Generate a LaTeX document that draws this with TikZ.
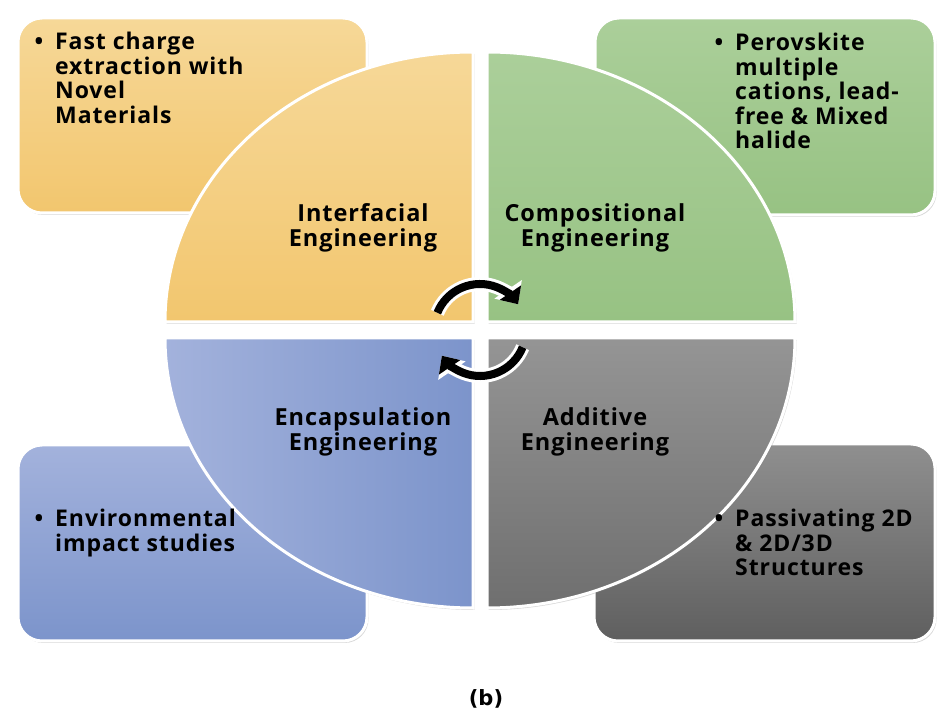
\documentclass[tikz,border=0pt]{standalone}
\usepackage{fontspec}
\setmainfont{Open Sans}[LetterSpace=4]
\newfontfamily\capfont{DejaVu Sans}
\usepackage{tikz}
\usetikzlibrary{shadows}
\usetikzlibrary{arrows.meta}

\definecolor{sandtop}{HTML}{F6D898}
\definecolor{sandbot}{HTML}{F2C66E}
\definecolor{sagetop}{HTML}{ABCF9A}
\definecolor{sagebot}{HTML}{97C283}
\definecolor{bluelight}{HTML}{A3B2DC}
\definecolor{bluedark}{HTML}{7C94CB}
\definecolor{greytop}{HTML}{8F8F8F}
\definecolor{greybot}{HTML}{5F5F5F}

\begin{document}
\begin{tikzpicture}[x=1pt,y=1pt,
        card/.style={draw=white, line width=3pt, rounded corners=24pt,
            drop shadow={shadow xshift=1.5pt, shadow yshift=-2pt, opacity=0.3}},
        quad/.style={draw=white, line width=3pt,
            drop shadow={shadow xshift=1.5pt, shadow yshift=-2pt, opacity=0.3}},
        title/.style={align=center, inner sep=0pt, font=\bfseries\fontsize{23.5}{24.5}\selectfont},
        points/.style={anchor=north west, align=left, inner sep=0pt, font=\bfseries\fontsize{23}{24.5}\selectfont},
        halo/.style={white, line width=14pt, -{Triangle[width=32pt,length=18pt]}},
        turn/.style={black, line width=8pt, -{Triangle[width=25pt,length=14pt]}}]
        \useasboundingbox (0,0) rectangle (938,713);

        % outer cards
        \node[card, top color=sandtop, bottom color=sandbot, minimum width=349pt, minimum height=195pt] (chargecard) at (192.5,597.5) {};
        \node[card, top color=sagetop, bottom color=sagebot, minimum width=340pt, minimum height=197pt] (cationcard) at (765,596.5) {};
        \node[card, top color=bluelight, bottom color=bluedark, minimum width=349pt, minimum height=196pt] (impactcard) at (192.5,170) {};
        \node[card, top color=greytop, bottom color=greybot, minimum width=341pt, minimum height=197pt] (passcard) at (764.5,170.5) {};

        % quarter pieces of the disc
        \path[quad, top color=sandtop, bottom color=sandbot] (473,391) -- (165,391)
            arc[start angle=180, end angle=90, x radius=308pt, y radius=270pt] -- cycle;
        \path[quad, top color=sagetop, bottom color=sagebot] (487,391) -- (487,661)
            arc[start angle=90, end angle=0, x radius=308pt, y radius=270pt] -- cycle;
        \path[quad, left color=bluelight, right color=bluedark] (473,375) -- (165,375)
            arc[start angle=180, end angle=270, x radius=308pt, y radius=270pt] -- cycle;
        \path[quad, top color=greytop!95, bottom color=greybot!90!white] (487,375) -- (795,375)
            arc[start angle=0, end angle=-90, x radius=308pt, y radius=270pt] -- cycle;

        % disc labels
        \node[title] (interfacial) at (363,485) {Interfacial\\Engineering};
        \node[title] (compositional) at (595,485) {Compositional\\Engineering};
        \node[title] (encapsulation) at (363,281) {Encapsulation\\Engineering};
        \node[title] (additive) at (595,281) {Additive\\Engineering};

        % card texts
        \node[points] (charge) at (55,681) {\llap{\textbullet\hspace{12pt}}Fast charge\\extraction with\\Novel\\Materials};
        \node[points] (cation) at (735,680) {\llap{\textbullet\hspace{12pt}}Perovskite\\multiple\\cations, lead-\\free \& Mixed\\halide};
        \node[points] (impact) at (55,204) {\llap{\textbullet\hspace{12pt}}Environmental\\impact studies};
        \node[points] (passivating) at (735,204) {\llap{\textbullet\hspace{12pt}}Passivating 2D\\\& 2D/3D\\Structures};

        % cycle arrows in the middle
        \coordinate (hub) at (480,383);
        \draw[halo] ([shift={(158:46pt)}]hub) arc[start angle=158, end angle=34, radius=46pt];
        \draw[turn] ([shift={(158:46pt)}]hub) arc[start angle=158, end angle=34, radius=46pt];
        \draw[halo] ([shift={(-22:46pt)}]hub) arc[start angle=-22, end angle=-146, radius=46pt];
        \draw[turn] ([shift={(-22:46pt)}]hub) arc[start angle=-22, end angle=-146, radius=46pt];

        \node[font=\capfont\bfseries\fontsize{21}{22}\selectfont] (panel) at (486,14) {(b)};
    \end{tikzpicture}
\end{document}
